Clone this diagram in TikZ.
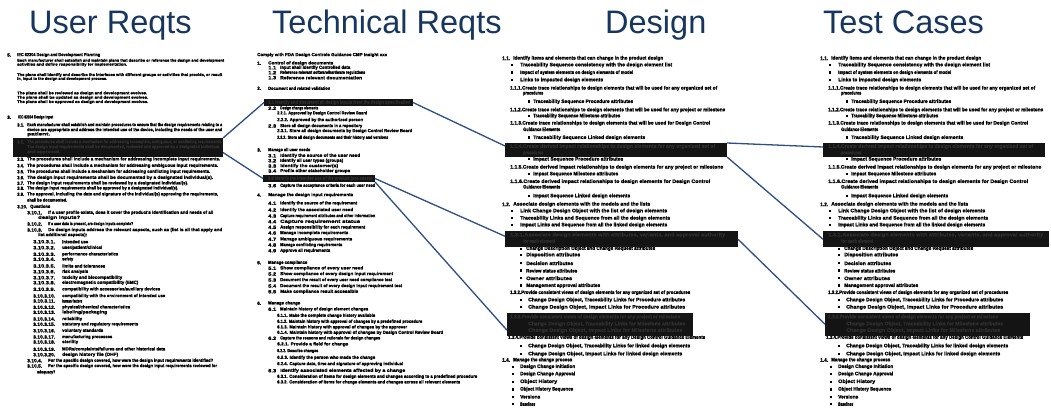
\documentclass[tikz,border=0pt]{standalone}
\usepackage{fontspec}
\setmainfont{Liberation Sans}
\newfontfamily\blk{Liberation Sans}[UprightFont={* Bold},FakeBold=1.6]
\usepackage{graphicx}
\definecolor{headc}{HTML}{17365D}
\definecolor{connc}{HTML}{2D4F85}
\definecolor{boxc}{HTML}{141414}
\definecolor{boxt}{HTML}{2E2E2E}
\newcommand\txth{3.2pt}
\newcounter{tlc}
\newcommand\tline[5][]{%
  \stepcounter{tlc}\pgfmathsetmacro\tlw{#4-(#2)}%
  \node[txt,#1] (t\arabic{tlc}) at ({#2},{#3}) {\resizebox{\tlw pt}{\txth}{\blk #5}};}
\newcommand\bullt[2]{\fill ({#1},{#2-1.2}) rectangle ({#1+2.4},{#2+1.2});}
\newcommand\hlbox[5]{%
  \node[hlb, minimum width={#4-(#2)}, minimum height={#5-(#3)}] (#1) at ({(#2+#4)/2},{(#3+#5)/2}) {};}
\newcommand\dcol[4]{%
\tline{#2+502}{58.3}{#2+510}{1.1.}
\tline{#2+513}{58.3}{#2+663}{Identify items and elements that can change in the product design}
\bullt{#2+511}{65}\tline{#2+520}{65}{#2+672}{Traceability Sequence consistency with the design element list}
\bullt{#2+511}{72.7}\tline{#2+520}{72.7}{#2+633}{Impact of system elements on design elements of model}
\bullt{#2+511}{80}\tline{#2+520}{80}{#2+603}{Links to impacted design elements}
\tline{#2+510}{88.3}{#2+717}{1.1.1.Create trace relationships to design elements that will be used for any organized set of}
\tline{#2+523}{93.3}{#2+543}{procedures}
\bullt{#2+528}{101.7}\tline{#2+533}{101.7}{#2+633}{Traceability Sequence Procedure attributes}
\tline{#2+510}{110}{#2+725}{1.1.2.Create trace relationships to design elements that will be used for any project or milestone}
\bullt{#2+528}{116}\tline{#2+533}{116}{#2+620}{Traceability Sequence Milestone attributes}
\tline{#2+510}{123.3}{#2+710}{1.1.3.Create trace relationships to design elements that will be used for Design Control}
\tline{#2+523}{129.3}{#2+560}{Guidance Elements}
\bullt{#2+528}{137.7}\tline{#2+533}{137.7}{#2+645}{Traceability Sequence Linked design elements}
\hlbox{#1A}{#2+505}{143}{#2+727}{157}
\tline[boxtxt]{#2+510}{146.5}{#2+715}{1.1.4.Create derived impact relationships to design elements for any organized set of}
\tline[boxtxt]{#2+523}{153}{#2+543}{procedures}
\bullt{#2+528}{159.3}\tline{#2+533}{159.3}{#2+623}{Impact Sequence Procedure attributes}
\tline{#2+510}{167.3}{#2+723}{1.1.5.Create derived impact relationships to design elements for any project or milestone}
\bullt{#2+528}{174}\tline{#2+533}{174}{#2+618}{Impact Sequence Milestone attributes}
\tline{#2+510}{181.7}{#2+710}{1.1.6.Create derived impact relationships to design elements for Design Control}
\tline{#2+523}{186.7}{#2+560}{Guidance Elements}
\bullt{#2+528}{196}\tline{#2+533}{196}{#2+630}{Impact Sequence Linked design elements}
\tline{#2+502}{204.3}{#2+510}{1.2.}
\tline{#2+513}{204.3}{#2+650}{Associate design elements with the models and the lists}
\bullt{#2+511}{211}\tline{#2+520}{211}{#2+667}{Link Change Design Object with the list of design elements}
\bullt{#2+511}{218.3}\tline{#2+520}{218.3}{#2+670}{Traceability Links and Sequence from all the design elements}
\bullt{#2+511}{225}\tline{#2+520}{225}{#2+667}{Impact Links and Sequence from all the linked design elements}
\tline{#2+526}{248.6}{#2+655}{Change Description Object and Change Request attributes}
\hlbox{#1B}{#2+505}{231}{#3}{247.5}
\tline[boxtxt]{#2+510}{235}{#2+725}{1.3.1.Associate design elements with attributes, variants, and approval authority}
\tline[boxtxt]{#2+523}{241}{#2+555}{for each element}
\bullt{#2+520}{249}
\bullt{#2+520}{255}\tline{#2+526}{255}{#2+580}{Disposition attributes}
\bullt{#2+520}{263.3}\tline{#2+526}{263.3}{#2+573}{Decision attributes}
\bullt{#2+520}{270.7}\tline{#2+526}{270.7}{#2+577}{Review status attributes}
\bullt{#2+520}{278.3}\tline{#2+526}{278.3}{#2+572}{Owner attributes}
\bullt{#2+520}{285.7}\tline{#2+526}{285.7}{#2+600}{Management approval attributes}
\tline{#2+510}{292.7}{#2+690}{1.3.2.Provide consistent views of design elements for any organized set of procedures}
\bullt{#2+520}{300}\tline{#2+528}{300}{#2+685}{Change Design Object, Traceability Links for Procedure attributes}
\bullt{#2+520}{307.3}\tline{#2+528}{307.3}{#2+685}{Change Design Object, Impact Links for Procedure attributes}
\tline{#2+508}{337.6}{#2+705}{1.3.4.Provide consistent views of design elements for any Design Control Guidance Elements}
\hlbox{#1C}{#2+507}{313}{#4}{335.5}
\tline[boxtxt]{#2+510}{317}{#2+680}{1.3.3.Provide consistent views of design elements for any project or milestone}
\tline[boxtxt]{#2+528}{324}{#2+685}{Change Design Object, Traceability Links for Milestone attributes}
\tline[boxtxt]{#2+528}{330.5}{#2+682}{Change Design Object, Impact Links for Milestone attributes}
\bullt{#2+520}{346}\tline{#2+528}{346}{#2+690}{Change Design Object, Traceability Links for linked design elements}
\bullt{#2+520}{354}\tline{#2+528}{354}{#2+682}{Change Design Object, Impact Links for linked design elements}
\tline{#2+502}{360}{#2+510}{1.4.}
\tline{#2+513}{360}{#2+572}{Manage the change process}
\bullt{#2+512}{366.7}\tline{#2+520}{366.7}{#2+575}{Design Change Initiation}
\bullt{#2+512}{374}\tline{#2+520}{374}{#2+575}{Design Change Approval}
\bullt{#2+512}{381.7}\tline{#2+520}{381.7}{#2+557}{Object History}
\bullt{#2+512}{389.3}\tline{#2+520}{389.3}{#2+573}{Object History Sequence}
\bullt{#2+512}{396.7}\tline{#2+520}{396.7}{#2+540}{Versions}
\bullt{#2+512}{404}\tline{#2+520}{404}{#2+535}{Baselines}
}
\begin{document}
\begin{tikzpicture}[x=1pt,y=-1pt,
  txt/.style={anchor=west,inner sep=0pt,text=black},
  boxtxt/.style={text=boxt},
  hlb/.style={fill=boxc,draw=none,inner sep=0pt,outer sep=0pt},
  head/.style={anchor=base west,inner sep=0pt,text=headc,font=\fontsize{32.5}{34}\selectfont},
  conn/.style={draw=connc,line width=1.3pt}]
\fill[white] (0,0) rectangle (1051,411);
\useasboundingbox (0,0) rectangle (1051,411);
% headings
\node[head] (hUR) at (29,34) {User Reqts};
\node[head] (hTR) at (272,34) {Technical Reqts};
\node[head] (hD) at (605,34) {Design};
\node[head] (hTC) at (823,34) {Test Cases};
% ---------------- User Reqts column
\tline{7}{55}{11}{5.}
\tline{17}{55}{100}{IEC 62304 Design and Development Planning}
\renewcommand\txth{2.8pt}
\tline{17}{60.7}{224}{Each manufacturer shall establish and maintain plans that describe or reference the design and development}
\tline{17}{64.6}{127}{activities and define responsibility for implementation.}
\tline{17}{75}{222}{The plans shall identify and describe the interfaces with different groups or activities that provide, or result}
\tline{17}{78.9}{107}{in, input to the design and development process.}
\tline{17}{93.3}{147}{The plans shall be reviewed as design and development evolves.}
\tline{17}{97.7}{148}{The plans shall be updated as design and development evolves.}
\tline{17}{102}{148}{The plans shall be approved as design and development evolves.}
\renewcommand\txth{3.2pt}
\tline{7}{117.3}{11}{3.}
\tline{18}{117.3}{53}{IEC 62304 Design Input}
\tline{17}{125}{24}{3.1.}
\tline{27}{125}{222}{Each manufacturer shall establish and maintain procedures to ensure that the design requirements relating to a}
\tline{27}{130}{222}{device are appropriate and address the intended use of the device, including the needs of the user and}
\tline{27}{134.3}{50}{patient.}
\hlbox{urbox}{13}{138}{223}{157}
\tline[boxtxt]{17}{142}{24}{3.2.}
\tline[boxtxt]{27}{142}{222}{The procedures shall include a mechanism for addressing incomplete, ambiguous, or conflicting requirements.}
\tline[boxtxt]{27}{147}{220}{The design input requirements shall be documented, reviewed and approved by a designated individual.}
\tline[boxtxt]{27}{152}{60}{and approved.}
\tline{17}{159.3}{24}{3.3.}\tline{27}{159.3}{220}{The procedures shall include a mechanism for addressing incomplete input requirements.}
\tline{17}{165.7}{24}{3.4.}\tline{27}{165.7}{218}{The procedures shall include a mechanism for addressing ambiguous input requirements.}
\tline{17}{171.7}{24}{3.5.}\tline{27}{171.7}{210}{The procedures shall include a mechanism for addressing conflicting input requirements.}
\tline{17}{177.7}{24}{3.6.}\tline{27}{177.7}{213}{The design input requirements shall be documented by a designated individual(s).}
\tline{17}{183.3}{24}{3.7.}\tline{27}{183.3}{188}{The design input requirements shall be reviewed by a designated individual(s).}
\tline{17}{188.3}{24}{3.8.}\tline{27}{188.3}{178}{The design input requirements shall be approved by a designated individual(s).}
\tline{17}{194.3}{24}{3.9.}\tline{27}{194.3}{218}{The approval, including the date and signature of the individual(s) approving the requirements,}
\tline{27}{200}{67}{shall be documented.}
\tline{17}{206.7}{27}{3.10.}\tline{30}{206.7}{50}{Questions}
\tline{27}{212.7}{42}{3.10.1.}\tline{48}{212.7}{213}{If a user profile exists, does it cover the product's identification and needs of all}
\tline{38}{217.7}{80}{design inputs?}
\tline{27}{224}{42}{3.10.2.}\tline{48}{224}{133}{If a user data is present, are design inputs complete?}
\tline{27}{230}{42}{3.10.3.}\tline{48}{230}{222}{Do design inputs address the relevant aspects, such as (list is all that apply and}
\tline{38}{235}{87}{list additional aspects):}
\tline{33}{241.7}{55}{3.10.3.1.}\tline{62}{241.7}{88}{intended use}
\tline{33}{247.7}{55}{3.10.3.2.}\tline{62}{247.7}{102}{user/patient/clinical}
\tline{33}{254.3}{55}{3.10.3.3.}\tline{62}{254.3}{118}{performance characteristics}
\tline{33}{259.3}{55}{3.10.3.4.}\tline{62}{259.3}{73}{safety}
\tline{33}{266}{55}{3.10.3.5.}\tline{62}{266}{105}{limits and tolerances}
\tline{33}{271.7}{55}{3.10.3.6.}\tline{62}{271.7}{88}{risk analysis}
\tline{33}{277.7}{55}{3.10.3.7.}\tline{62}{277.7}{122}{toxicity and biocompatibility}
\tline{33}{282.7}{55}{3.10.3.8.}\tline{62}{282.7}{138}{electromagnetic compatibility (EMC)}
\tline{33}{289.3}{55}{3.10.3.9.}\tline{62}{289.3}{160}{compatibility with accessories/auxiliary devices}
\tline{33}{296}{55}{3.10.3.10.}\tline{62}{296}{165}{compatibility with the environment of intended use}
\tline{33}{301}{55}{3.10.3.11.}\tline{62}{301}{82}{human factors}
\tline{33}{307.3}{55}{3.10.3.12.}\tline{62}{307.3}{130}{physical/chemical characteristics}
\tline{33}{312.3}{55}{3.10.3.13.}\tline{62}{312.3}{107}{labeling/packaging}
\tline{33}{319}{55}{3.10.3.14.}\tline{62}{319}{82}{reliability}
\tline{33}{324.3}{55}{3.10.3.15.}\tline{62}{324.3}{138}{statutory and regulatory requirements}
\tline{33}{330.7}{55}{3.10.3.16.}\tline{62}{330.7}{103}{voluntary standards}
\tline{33}{337}{55}{3.10.3.17.}\tline{62}{337}{112}{manufacturing processes}
\tline{33}{342}{55}{3.10.3.18.}\tline{62}{342}{78}{sterility}
\tline{33}{349.3}{55}{3.10.3.19.}\tline{62}{349.3}{165}{MDRs/complaints/failures and other historical data}
\tline{33}{354.7}{55}{3.10.3.20.}\tline{62}{354.7}{118}{design history file (DHF)}
\tline{27}{360.7}{42}{3.10.4.}\tline{48}{360.7}{213}{For the specific design covered, how were the design input requirements identified?}
\tline{27}{366}{42}{3.10.5.}\tline{48}{366}{217}{For the specific design covered, how were the design input requirements reviewed for}
\tline{37}{372.3}{55}{adequacy?}
% ---------------- Technical Reqts column
\tline{257}{55}{387}{Comply with FDA Design Controls Guidance CMP Insight xxx}
\tline{257}{63.3}{261}{1.}\tline{268}{63.3}{333}{Control of design documents}
\tline{268}{67.7}{276}{1.1}\tline{280}{67.7}{350}{Input shall identify Controlled data}
\tline{268}{72.7}{276}{1.2}\tline{280}{72.7}{365}{Reference relevant software/hardware regulations}
\tline{268}{77.7}{276}{1.3}\tline{280}{77.7}{362}{Reference relevant documentation}
\tline{257}{88.3}{261}{2.}\tline{268}{88.3}{330}{Document and related validation}
\hlbox{trboxA}{264}{99}{413}{106}
\tline[boxtxt]{268}{102.5}{410}{2.1 Identify and document all design inputs from the design specification}
\tline{268}{108.3}{276}{2.2}\tline{280}{108.3}{318}{Design change elements}
\tline{277}{113.3}{367}{2.2.1. Approved by Design Control Review Board}
\tline{277}{120}{363}{2.2.2. Approved by the authorized person}
\tline{268}{126}{276}{2.3}\tline{280}{126}{362}{Store all design documents in a repository}
\tline{277}{131}{412}{2.3.1. Store all design documents by Design Control Review Board}
\tline{277}{137.7}{388}{2.3.2. Store all design documents and their history and versions}
\tline{257}{150}{261}{3.}\tline{268}{150}{310}{Manage all user needs}
\tline{268}{155.7}{276}{3.1}\tline{280}{155.7}{360}{Identify the source of the user need}
\tline{268}{160.7}{276}{3.2}\tline{280}{160.7}{343}{Identify all user types (groups)}
\tline{268}{166}{276}{3.3}\tline{280}{166}{338}{Identify the customer(s)}
\tline{268}{171}{276}{3.4}\tline{280}{171}{350}{Profile other stakeholder groups}
\hlbox{trboxB}{263}{175}{375}{182}
\tline[boxtxt]{268}{178.5}{372}{3.5 Identify the intended use of the product (use cases)}
\tline{268}{185.7}{276}{3.6}\tline{280}{185.7}{375}{Capture the acceptance criteria for each user need}
\tline{257}{195}{261}{4.}\tline{268}{195}{353}{Manage the design input requirements}
\tline{268}{203.3}{276}{4.1}\tline{280}{203.3}{357}{Identify the source of the requirement}
\tline{268}{210}{276}{4.2}\tline{280}{210}{353}{Identify the associated user need}
\tline{268}{216}{276}{4.3}\tline{280}{216}{375}{Capture requirement attributes and other information}
\tline{268}{221.7}{276}{4.4}\tline{280}{221.7}{360}{Capture requirement status}
\tline{268}{227.4}{276}{4.5}\tline{280}{227.4}{365}{Assign responsibility for each requirement}
\tline{268}{233}{276}{4.6}\tline{280}{233}{348}{Manage incomplete requirements}
\tline{268}{239.3}{276}{4.7}\tline{280}{239.3}{352}{Manage ambiguous requirements}
\tline{268}{245}{276}{4.8}\tline{280}{245}{342}{Manage conflicting requirements}
\tline{268}{250.7}{276}{4.9}\tline{280}{250.7}{330}{Approve all requirements}
\tline{257}{262.7}{261}{5.}\tline{268}{262.7}{307}{Manage compliance}
\tline{268}{268.3}{276}{5.1}\tline{280}{268.3}{363}{Show compliance of every user need}
\tline{268}{274}{276}{5.2}\tline{280}{274}{393}{Show compliance of every design input requirement}
\tline{268}{280}{276}{5.3}\tline{280}{280}{392}{Document the result of every user need compliance test}
\tline{268}{286}{276}{5.4}\tline{280}{286}{402}{Document the result of every design input requirement test}
\tline{268}{291.7}{276}{5.5}\tline{280}{291.7}{358}{Make compliance result accessible}
\tline{257}{303.3}{261}{6.}\tline{268}{303.3}{300}{Manage change}
\tline{268}{309.3}{276}{6.1}\tline{280}{309.3}{368}{Maintain history of design element changes}
\tline{277}{315.7}{375}{6.1.1. Make the complete change history available}
\tline{277}{321.7}{422}{6.1.2. Maintain history with approval of changes by a predefined procedure}
\tline{277}{327.3}{407}{6.1.3. Maintain history with approval of changes by the approver}
\tline{277}{332.7}{443}{6.1.4. Maintain history with approval of changes by Design Control Review Board}
\tline{268}{338.3}{276}{6.2}\tline{280}{338.3}{380}{Capture the reasons and rationale for design changes}
\tline{277}{344.3}{348}{6.2.1. Provide a field for change}
\tline{277}{351}{318}{6.2.2. Describe changes}
\tline{277}{357.7}{375}{6.2.3. Identify the person who made the change}
\tline{277}{364}{403}{6.2.4. Capture date, time and signature of approving individual}
\tline{268}{370.7}{276}{6.3}\tline{280}{370.7}{405}{Identify associated elements affected by a change}
\tline{277}{376.7}{477}{6.3.1. Consideration of items for design elements and changes according to a predefined procedure}
\tline{277}{382.3}{460}{6.3.2. Consideration of items for change elements and changes across all relevant elements}
% ---------------- Design and Test Cases columns
\renewcommand\txth{3.6pt}
\dcol{dbox}{0}{738}{693}
\dcol{tcbox}{318}{1049}{1030}
% ---------------- connectors
\draw[conn] (urbox.north east) -- (trboxA.west);
\draw[conn] ([yshift=-5pt]urbox.east) -- (trboxB.west);
\draw[conn] (trboxA.east) -- ([yshift=4pt]dboxA.west);
\draw[conn] (trboxB.east) -- ([yshift=3pt]dboxB.west);
\draw[conn] (trboxB.south east) -- ([yshift=-6pt]dboxC.west);
\draw[conn] (dboxA.north east) -- ([yshift=3pt]tcboxA.west);
\draw[conn] (dboxA.south east) -- (tcboxB.west);
\draw[conn] (dboxB.east) -- (tcboxC.west);
\end{tikzpicture}
\end{document}
